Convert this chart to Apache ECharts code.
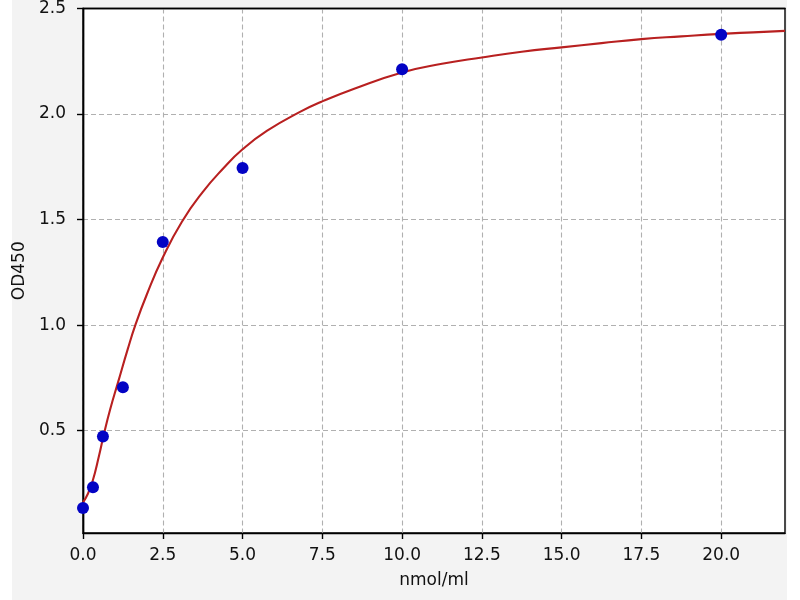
<!DOCTYPE html>
<html>
<head>
<meta charset="utf-8">
<script src="https://cdn.jsdelivr.net/npm/echarts@6/dist/echarts.min.js"></script>
<style>
  html, body { margin: 0; padding: 0; background: #fff; }
  #odChart {
    width: 800px; height: 600px;
    background: linear-gradient(to right, #fff 0, #fff 12px, #f3f3f3 12px, #f3f3f3 787px, #fff 787px);
  }
</style>
</head>
<body>
<div id="odChart"></div>
<script>
// measured standards
var pointX = [0, 0.3125, 0.625, 1.25, 2.5, 5, 10, 20];
var pointY = [0.133, 0.232, 0.472, 0.705, 1.394, 1.744, 2.212, 2.376];

// fitted curve
var curveX = [0, 0.15, 0.3, 0.5, 0.65, 0.85, 1.1, 1.4, 1.64, 2.0, 2.5, 3.1, 3.75, 4.4, 5.0, 5.76, 6.8, 7.5, 8.5, 10, 11.25, 12.5, 13.75, 15, 16.25, 17.5, 18.75, 20, 21, 22];
var curveY = [0.16, 0.2, 0.26, 0.38, 0.48, 0.6, 0.73, 0.885, 1.0, 1.145, 1.32, 1.49, 1.63, 1.743, 1.833, 1.92, 2.01, 2.06, 2.12, 2.197, 2.238, 2.268, 2.295, 2.316, 2.336, 2.355, 2.368, 2.38, 2.387, 2.394];

var xTicks = [0, 2.5, 5, 7.5, 10, 12.5, 15, 17.5, 20];
var yTicks = [0.5, 1.0, 1.5, 2.0, 2.5];

function pairs(xs, ys) {
    var out = [];
    for (var i = 0; i < xs.length; i++) out.push([xs[i], ys[i]]);
    return out;
}

var font = 'DejaVu Sans';
var frameLine = { show: true, lineStyle: { color: '#000', width: 1.4 } };
var odChart = echarts.init(document.getElementById('odChart'));
odChart.setOption({
    animation: false,
    grid: {
        left: 83, right: 15, top: 7, bottom: 67,
        show: true, backgroundColor: '#fff',
        borderColor: '#000', borderWidth: 1.4
    },
    xAxis: [{
        type: 'value', min: 0, max: 22, interval: 2.5,
        name: 'nmol/ml', nameLocation: 'middle', nameGap: 39,
        nameTextStyle: { fontFamily: font, fontSize: 17, color: '#111' },
        axisLine: frameLine,
        axisTick: { show: true, length: 6, customValues: xTicks, lineStyle: { color: '#000', width: 1.4 } },
        axisLabel: {
            customValues: xTicks, margin: 14, fontFamily: font, fontSize: 17, color: '#111',
            formatter: function (v) { return v.toFixed(1); }
        },
        splitLine: { show: true, lineStyle: { color: '#b0b0b0', width: 1.1, type: [5, 3] } }
    }, {
        // top frame edge, drawn over the grid lines
        type: 'value', position: 'top', min: 0, max: 22,
        axisLine: frameLine, axisTick: { show: false }, axisLabel: { show: false }, splitLine: { show: false }
    }],
    yAxis: [{
        type: 'value', min: 0.015, max: 2.5, splitNumber: 5,
        name: 'OD450', nameLocation: 'middle', nameGap: 55,
        nameTextStyle: { fontFamily: font, fontSize: 17, color: '#111' },
        axisLine: frameLine,
        axisTick: { show: true, length: 6, customValues: yTicks, lineStyle: { color: '#000', width: 1.4 } },
        axisLabel: {
            customValues: yTicks, margin: 17, fontFamily: font, fontSize: 17, color: '#111',
            formatter: function (v) { return v.toFixed(1); }
        },
        splitLine: { show: true, lineStyle: { color: '#b0b0b0', width: 1.1, type: [5, 3] } }
    }, {
        type: 'value', position: 'right', min: 0.015, max: 2.5,
        axisLine: frameLine, axisTick: { show: false }, axisLabel: { show: false }, splitLine: { show: false }
    }],
    series: [
        {
            type: 'line', data: pairs(curveX, curveY), smooth: 0.5,
            showSymbol: false, z: 2,
            lineStyle: { color: '#b82020', width: 2.1 }
        },
        {
            type: 'scatter', data: pairs(pointX, pointY), symbolSize: 12, z: 3,
            itemStyle: { color: '#0303c4', opacity: 1 }
        }
    ]
});
</script>
</body>
</html>
